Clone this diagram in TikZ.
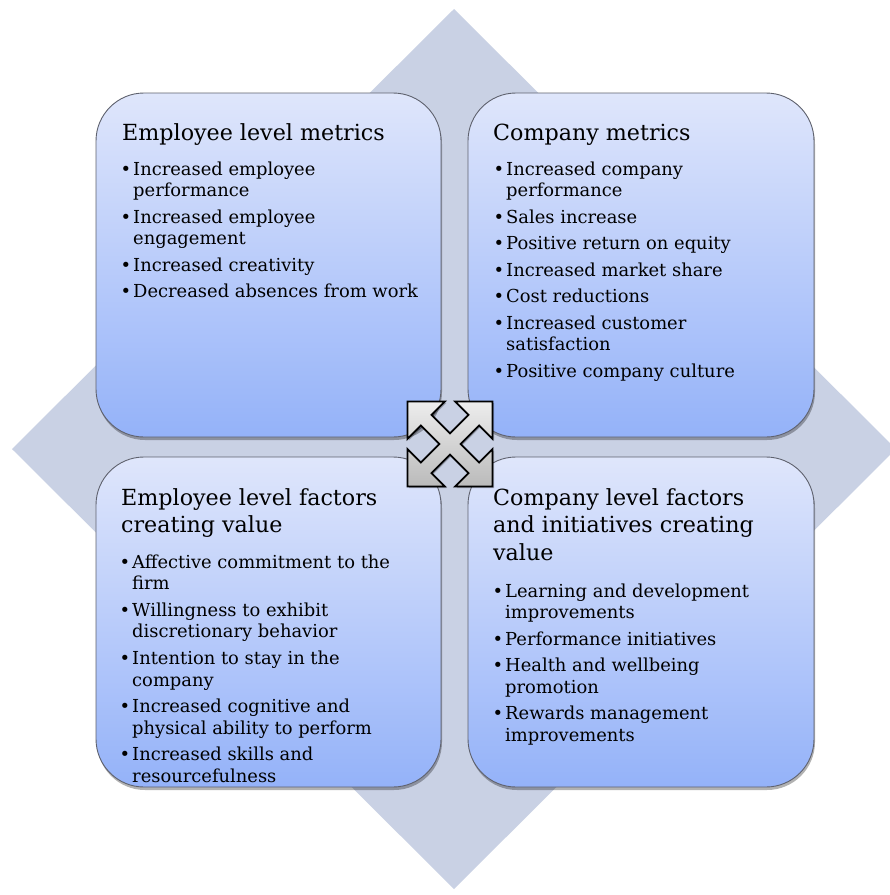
\documentclass[tikz,border=0pt]{standalone}
\usepackage{fontspec}
\setmainfont{DejaVu Serif}
\usetikzlibrary{shadows}

\definecolor{diamondblue}{RGB}{201,209,228}
\definecolor{boxtop}{RGB}{223,230,251}
\definecolor{boxbot}{RGB}{148,178,249}
\definecolor{boxline}{RGB}{95,98,110}

% bullet and indent for wrapped lines
\newcommand{\bul}{\makebox[11pt][l]{\hspace*{-1.5pt}\textbullet}}
\newcommand{\cnt}{\hspace*{11pt}}

\tikzset{
  quad/.style={draw=boxline, line width=0.9pt, rounded corners=48pt,
    top color=boxtop, bottom color=boxbot,
    drop shadow={shadow xshift=1pt, shadow yshift=-3pt, opacity=0.3, fill=black}},
  heading/.style={anchor=base west, inner sep=0pt, font=\fontsize{22.2}{27.5}\selectfont},
  items/.style={anchor=base west, inner sep=0pt, font=\fontsize{17.9}{21.7}\selectfont},
  arrowicon/.style={draw=black, line width=1.8pt, line join=miter,
    top color=black!7, bottom color=black!27,
    drop shadow={shadow xshift=1.5pt, shadow yshift=-1.5pt, opacity=0.25, fill=black}}
}

\begin{document}
\begin{tikzpicture}[x=1pt,y=-1pt]

\useasboundingbox (0,0) rectangle (890,895);
\clip (0,0) rectangle (890,895);
\fill[white] (0,0) rectangle (890,895);

% background diamond
\fill[diamondblue] (454,9) -- (896,449) -- (454,889) -- (12,449) -- cycle;

% four quadrants
\draw[quad] (96,93) rectangle (441,437);
\draw[quad] (468,93) rectangle (814,437);
\draw[quad] (96,457) rectangle (441,787);
\draw[quad] (468,457) rectangle (814,787);

%top left
\node[heading] (t1) at (122,140) {Employee level metrics};
\node[items] (l1) at (122,175) {\begin{tabular}[t]{@{}l@{}}
\bul Increased employee\\
\cnt performance\\[4.8pt]
\bul Increased employee\\
\cnt engagement\\[4.8pt]
\bul Increased creativity\\[4.8pt]
\bul Decreased absences from work
\end{tabular}};

%top right
\node[heading] (t2) at (493,140) {Company metrics};
\node[items] (l2) at (495,175) {\begin{tabular}[t]{@{}l@{}}
\bul Increased company\\
\cnt performance\\[4.8pt]
\bul Sales increase\\[4.8pt]
\bul Positive return on equity\\[4.8pt]
\bul Increased market share\\[4.8pt]
\bul Cost reductions\\[4.8pt]
\bul Increased customer\\
\cnt satisfaction\\[4.8pt]
\bul Positive company culture
\end{tabular}};

%bottom left
\node[heading] (t3) at (121,505) {\begin{tabular}[t]{@{}l@{}}
Employee level factors\\
creating value
\end{tabular}};
\node[items] (l3) at (121,568) {\begin{tabular}[t]{@{}l@{}}
\bul Affective commitment to the\\
\cnt firm\\[4.8pt]
\bul Willingness to exhibit\\
\cnt discretionary behavior\\[4.8pt]
\bul Intention to stay in the\\
\cnt company\\[4.8pt]
\bul Increased cognitive and\\
\cnt physical ability to perform\\[4.8pt]
\bul Increased skills and\\
\cnt resourcefulness
\end{tabular}};

%bottom right
\node[heading] (t4) at (493,505) {\begin{tabular}[t]{@{}l@{}}
Company level factors\\
and initiatives creating\\
value
\end{tabular}};
\node[items] (l4) at (494,597) {\begin{tabular}[t]{@{}l@{}}
\bul Learning and development\\
\cnt improvements\\[4.8pt]
\bul Performance initiatives\\[4.8pt]
\bul Health and wellbeing\\
\cnt promotion\\[4.8pt]
\bul Rewards management\\
\cnt improvements
\end{tabular}};

% four way arrow in the middle
\begin{scope}[shift={(450,444)}, x=42.5pt, y=42.5pt]
\draw[arrowicon] (-1,1) -- (-0.12,1) -- (-0.435,0.685) -- (0,0.25)
  -- (0.435,0.685) -- (0.12,1) -- (1,1) -- (1,0.12) -- (0.685,0.435)
  -- (0.25,0) -- (0.685,-0.435) -- (1,-0.12) -- (1,-1) -- (0.12,-1)
  -- (0.435,-0.685) -- (0,-0.25) -- (-0.435,-0.685) -- (-0.12,-1)
  -- (-1,-1) -- (-1,-0.12) -- (-0.685,-0.435) -- (-0.25,0)
  -- (-0.685,0.435) -- (-1,0.12) -- cycle;
\end{scope}

\end{tikzpicture}
\end{document}
